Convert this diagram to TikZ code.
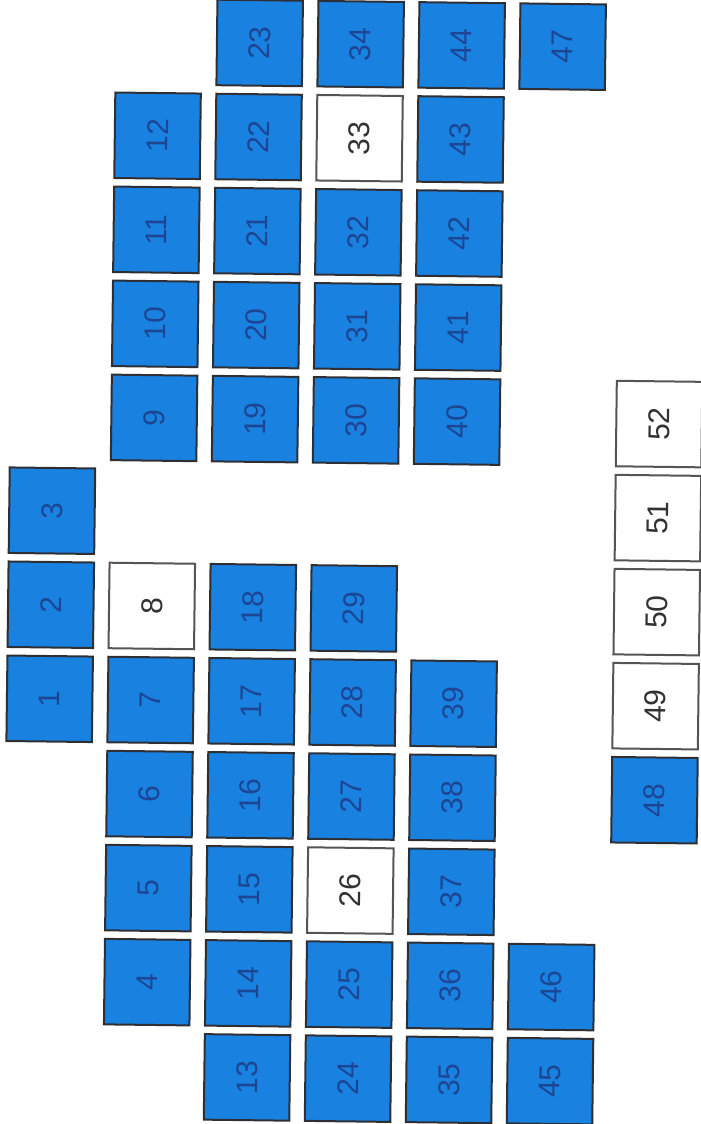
\documentclass[tikz,border=0pt]{standalone}
\usepackage{fontspec}
\setmainfont{Liberation Sans}
\usepackage{tikz}
\usetikzlibrary{positioning}

\definecolor{tileblue}{RGB}{25,130,225}
\definecolor{tileedge}{RGB}{45,47,52}
\definecolor{tiletext}{RGB}{28,70,148}
\definecolor{blankedge}{RGB}{85,85,85}
\definecolor{blanktext}{RGB}{50,50,50}

\begin{document}
\begin{tikzpicture}[
    x=0.5pt, y=-0.5pt,
    tile/.style={
      rectangle, draw=tileedge, fill=tileblue,
      line width=1pt, inner sep=0pt,
      minimum size=42.75pt, transform shape, rotate=90,
      text=tiletext, font=\fontsize{15}{18}\selectfont
    },
    blank/.style={
      tile, draw=blankedge, fill=white, text=blanktext
    },
  ]

  \useasboundingbox (0,0) rectangle (701,1124);

  \begin{scope}[shift={(57.7,40.5)}, rotate=-0.7]
    % Blue tiles: number / column / row
    \foreach \n/\c/\r in {1/0/7, 2/0/6, 3/0/5,
        4/1/10, 5/1/9, 6/1/8, 7/1/7, 9/1/4, 10/1/3, 11/1/2, 12/1/1,
        13/2/11, 14/2/10, 15/2/9, 16/2/8, 17/2/7, 18/2/6,
        19/2/4, 20/2/3, 21/2/2, 22/2/1, 23/2/0,
        24/3/11, 25/3/10, 27/3/8, 28/3/7, 29/3/6,
        30/3/4, 31/3/3, 32/3/2, 34/3/0,
        35/4/11, 36/4/10, 37/4/9, 38/4/8, 39/4/7,
        40/4/4, 41/4/3, 42/4/2, 43/4/1, 44/4/0,
        45/5/11, 46/5/10, 47/5/0, 48/6/8}
      \node[tile] (t\n) at (\c*101, \r*94.05) {\n};

    % White tiles
    \foreach \n/\c/\r in {8/1/6, 26/3/9, 33/3/1,
        49/6/7, 50/6/6, 51/6/5, 52/6/4}
      \node[blank] (t\n) at (\c*101, \r*94.05) {\n};
  \end{scope}

\end{tikzpicture}
\end{document}
